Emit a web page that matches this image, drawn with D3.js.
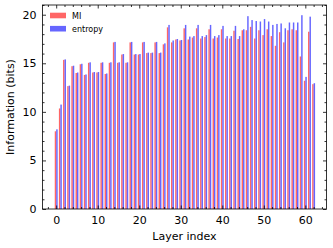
<!DOCTYPE html>
<html>
<head>
<meta charset="utf-8">
<script src="https://cdn.jsdelivr.net/npm/d3@7"></script>
<style>
  body { margin: 0; background: #fff; }
  text { font-family: "DejaVu Sans", sans-serif; }
</style>
</head>
<body>
<script>
// values, one per layer
const mi = [8.0, 10.35, 15.35, 12.65, 14.7, 14.0, 14.9, 13.8, 15.05, 14.05,
  14.05, 15.05, 13.9, 15.05, 17.15, 15.05, 15.9, 15.05, 17.15, 15.9,
  15.9, 17.15, 16.05, 16.05, 17.15, 16.05, 16.95, 18.7, 17.15, 17.45,
  17.35, 18.6, 17.45, 17.65, 18.6, 17.55, 17.7, 18.5, 17.55, 17.65,
  18.5, 17.55, 17.55, 18.35, 17.5, 18.4, 18.4, 18.75, 17.55, 18.4,
  17.9, 18.5, 17.8, 16.8, 18.2, 17.15, 18.4, 18.5, 18.4, 15.7,
  13.2, 18.25, 12.85];
const entropy = [8.2, 10.75, 15.4, 12.7, 14.75, 14.05, 14.95, 13.85, 15.1, 14.1,
  14.1, 15.1, 13.95, 15.1, 17.2, 15.1, 15.95, 15.1, 17.2, 15.95,
  15.95, 17.2, 16.1, 16.1, 17.2, 16.1, 17.05, 18.95, 17.35, 17.5,
  17.4, 18.95, 17.75, 17.8, 18.95, 17.8, 17.9, 18.95, 17.8, 17.9,
  18.85, 17.8, 17.8, 18.85, 17.8, 18.5, 19.85, 19.45, 19.35, 19.3,
  19.55, 19.3, 18.95, 19.05, 19.1, 18.6, 19.2, 19.2, 19.2, 19.95,
  13.6, 19.8, 12.95];
const seriesNames = ["MI", "entropy"];
const xTicks = [0, 10, 20, 30, 40, 50, 60];
const xMinor = [-2, 2, 4, 6, 8, 12, 14, 16, 18, 22, 24, 26, 28, 32, 34, 36, 38, 42, 44, 46, 48, 52, 54, 56, 58, 62, 64];
const yTicks = [0, 5, 10, 15, 20];
const yMinor = [1, 2, 3, 4, 6, 7, 8, 9, 11, 12, 13, 14, 16, 17, 18, 19, 21];

const w = 333, h = 248;
const frame = { left: 42.5, right: 326.5, top: 5, bottom: 209 };
const colors = ["#ff6666", "#6666ff"];
const barW = 0.35;

const svg = d3.select("body").append("svg")
  .attr("width", w)
  .attr("height", h);

const x = d3.scaleLinear().domain([-3.3, 65.1]).range([frame.left, frame.right]);
const y = d3.scaleLinear().domain([0, 21]).range([frame.bottom, frame.top]);

const rows = mi.map((v, i) => ({ layer: i, mi: v, entropy: entropy[i] }));

// bars: MI left of the index, entropy right of it
svg.append("g").selectAll("rect")
  .data(rows)
  .enter().append("rect")
  .attr("x", d => x(d.layer - barW))
  .attr("y", d => y(d.mi))
  .attr("width", x(barW) - x(0))
  .attr("height", d => y(0) - y(d.mi))
  .attr("fill", colors[0]);

svg.append("g").selectAll("rect")
  .data(rows)
  .enter().append("rect")
  .attr("x", d => x(d.layer))
  .attr("y", d => y(d.entropy))
  .attr("width", x(barW) - x(0))
  .attr("height", d => y(0) - y(d.entropy))
  .attr("fill", colors[1]);

// axes with inward ticks on all four sides
function style(g) {
  g.select(".domain").remove();
  g.selectAll("line").attr("stroke", "#000").attr("stroke-width", 0.8);
  g.selectAll("text").attr("font-family", "DejaVu Sans, sans-serif")
    .attr("font-size", 11).attr("fill", "#000");
}

svg.append("g").attr("transform", `translate(0,${frame.bottom})`)
  .call(d3.axisBottom(x).tickValues(xTicks).tickSize(-3.5).tickPadding(7))
  .call(style);
svg.append("g").attr("transform", `translate(0,${frame.bottom})`)
  .call(d3.axisBottom(x).tickValues(xMinor).tickSize(-2).tickFormat(""))
  .call(style);
svg.append("g").attr("transform", `translate(0,${frame.top})`)
  .call(d3.axisTop(x).tickValues(xTicks).tickSize(-3.5).tickFormat(""))
  .call(style);
svg.append("g").attr("transform", `translate(0,${frame.top})`)
  .call(d3.axisTop(x).tickValues(xMinor).tickSize(-2).tickFormat(""))
  .call(style);

svg.append("g").attr("transform", `translate(${frame.left},0)`)
  .call(d3.axisLeft(y).tickValues(yTicks).tickSize(-3.5).tickPadding(6))
  .call(style);
svg.append("g").attr("transform", `translate(${frame.left},0)`)
  .call(d3.axisLeft(y).tickValues(yMinor).tickSize(-2).tickFormat(""))
  .call(style);
svg.append("g").attr("transform", `translate(${frame.right},0)`)
  .call(d3.axisRight(y).tickValues(yTicks).tickSize(-3.5).tickFormat(""))
  .call(style);
svg.append("g").attr("transform", `translate(${frame.right},0)`)
  .call(d3.axisRight(y).tickValues(yMinor).tickSize(-2).tickFormat(""))
  .call(style);

// frame
svg.append("rect")
  .attr("x", frame.left).attr("y", frame.top)
  .attr("width", frame.right - frame.left).attr("height", frame.bottom - frame.top)
  .attr("fill", "none").attr("stroke", "#000").attr("stroke-width", 0.8);

// axis titles
svg.append("text")
  .attr("x", (frame.left + frame.right) / 2).attr("y", 240)
  .attr("text-anchor", "middle").attr("font-size", 11)
  .text("Layer index");
svg.append("text")
  .attr("transform", `translate(14,${(frame.top + frame.bottom) / 2}) rotate(-90)`)
  .attr("text-anchor", "middle").attr("font-size", 11)
  .text("Information (bits)");

// legend
const leg = svg.append("g");
seriesNames.forEach((name, i) => {
  leg.append("rect")
    .attr("x", 50).attr("y", 12.7 + i * 13.2)
    .attr("width", 16).attr("height", 5.6)
    .attr("fill", colors[i]);
  leg.append("text")
    .attr("x", 72).attr("y", 18.5 + i * 13.2)
    .attr("font-size", 8)
    .text(name);
});
</script>
</body>
</html>
